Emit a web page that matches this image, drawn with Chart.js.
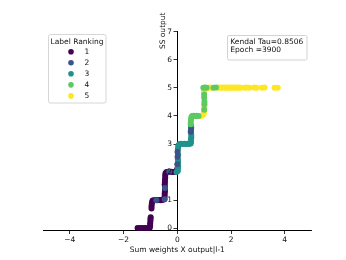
<!DOCTYPE html>
<html><head><meta charset="utf-8">
<script src="https://cdn.jsdelivr.net/npm/chart.js@4/dist/chart.umd.min.js"></script>
<style>html,body{margin:0;padding:0;background:#fff;overflow:hidden}</style>
</head><body>
<canvas id="c" width="346" height="260" style="display:block"></canvas>
<script>
// ---------- data ----------
const rankLabels = ['1', '2', '3', '4', '5'];
const rankColors = ['#440154', '#3b528b', '#21918c', '#5ec962', '#fde725'];

const rank1 = [
  [-1.48,0.01],[-1.42,0.00],[-1.36,0.01],[-1.30,0.00],[-1.24,0.01],[-1.18,0.00],[-1.12,0.01],[-1.06,0.01],[-1.02,0.03],
  [-1.01,0.10],[-1.01,0.18],[-1.00,0.26],[-1.00,0.33],[-0.99,0.39],
  [-0.96,0.70],[-0.96,0.78],[-0.95,0.86],[-0.94,0.93],[-0.92,0.99],
  [-0.86,1.00],[-0.80,1.01],[-0.74,1.00],[-0.68,1.01],[-0.62,1.00],[-0.56,1.01],[-0.51,1.02],
  [-0.48,1.08],[-0.47,1.16],[-0.47,1.24],[-0.46,1.32],[-0.46,1.40],[-0.46,1.48],[-0.47,1.56],[-0.46,1.64],[-0.46,1.72],[-0.45,1.80],[-0.45,1.88],[-0.44,1.96],
  [-0.40,2.00],[-0.34,2.01],[-0.28,2.00],[-0.22,2.01],[-0.16,2.00],[-0.10,2.01],[-0.05,2.02],[-0.01,2.06],[0.00,2.12]
];
const rank2 = [
  [-0.78,1.00],[-0.47,1.03],[-0.46,1.43],[-0.30,2.01],[0.00,2.28],[0.01,2.55],[0.01,2.72],[0.50,3.44],[0.51,3.52]
];
const rank3 = [
  [-0.03,2.00],[0.02,2.04],[0.02,2.12],[0.03,2.20],[0.02,2.30],[0.03,2.38],[0.02,2.46],[0.03,2.62],[0.02,2.80],[0.03,2.88],[0.04,2.95],
  [0.08,3.00],[0.14,3.01],[0.20,3.00],[0.26,3.01],[0.32,3.00],[0.38,3.01],[0.44,3.00],[0.50,3.02],
  [0.51,3.08],[0.51,3.16],[0.52,3.24],[0.52,3.32],[0.51,3.40],[0.52,3.58],[0.51,3.64]
];
const rank4 = [
  [0.50,3.70],[0.50,3.78],[0.51,3.86],[0.52,3.94],[0.55,4.00],[0.61,4.01],[0.67,4.00],[0.73,4.01],[0.79,4.00],
  [1.00,4.22],[1.01,4.42],[1.01,4.50],[1.00,4.66],[1.00,4.76],
  [0.97,5.00],[1.03,5.01],[1.09,5.00],[1.35,5.00],[1.44,5.01]
];
const rank5 = [
  [0.85,4.00],[0.91,4.01],[0.96,4.04],[0.99,4.10],[1.00,4.17],[1.01,4.30],[1.00,4.36],[1.01,4.58],[1.00,4.84],[1.00,4.90],[0.99,4.96],
  [1.15,5.00],[1.21,5.01],[1.27,5.00],[1.52,5.00],[1.58,5.01],[1.64,5.00],[1.70,5.01],[1.76,5.00],[1.82,5.01],[1.88,5.00],
  [1.94,5.01],[2.00,5.00],[2.06,5.01],[2.12,5.00],[2.18,5.01],[2.24,5.00],[2.30,5.01],[2.36,5.00],
  [2.50,5.00],[2.58,5.01],[2.68,5.00],[2.86,5.01],[2.95,5.00],[3.15,5.00],[3.25,5.01],[3.62,5.00],[3.74,5.00]
];

const xTicks = [-4, -2, 0, 2, 4];
const yTicks = [0, 1, 2, 3, 4, 5, 6, 7];
const xAxisTitle = 'Sum weights X output|l-1';
const yAxisTitle = 'SS output';
const legendTitle = 'Label Ranking';
const infoLines = ['Kendal Tau=0.8506', 'Epoch =3900'];

// ---------- chart ----------
const FONT = '"DejaVu Sans", sans-serif';
const FS = 7.5;
const TXT = '#111111';
const fmt = v => (v < 0 ? '\u2212' + Math.abs(v) : String(v));
const series = [rank1, rank2, rank3, rank4, rank5];
const drawOrder = [5, 3, 4, 1, 2]; // larger = drawn earlier (underneath)

const datasets = series.map((s, i) => ({
  label: rankLabels[i],
  data: s.map(([x, y]) => ({ x, y })),
  backgroundColor: rankColors[i],
  borderWidth: 0,
  pointRadius: 3,
  pointHoverRadius: 3,
  order: drawOrder[i]
}));

function roundRect(ctx, x, y, w, h, r) {
  ctx.beginPath();
  ctx.moveTo(x + r, y);
  ctx.lineTo(x + w - r, y); ctx.arcTo(x + w, y, x + w, y + r, r);
  ctx.lineTo(x + w, y + h - r); ctx.arcTo(x + w, y + h, x + w - r, y + h, r);
  ctx.lineTo(x + r, y + h); ctx.arcTo(x, y + h, x, y + h - r, r);
  ctx.lineTo(x, y + r); ctx.arcTo(x, y, x + r, y, r);
  ctx.closePath();
}

const decor = {
  id: 'decor',
  afterDraw(chart) {
    const ctx = chart.ctx;
    const xs = chart.scales.x, ys = chart.scales.y;
    const x0 = xs.getPixelForValue(0);
    ctx.save();
    ctx.fillStyle = TXT;
    ctx.font = FS + 'px ' + FONT;
    // y tick labels
    ctx.textAlign = 'right';
    ctx.textBaseline = 'middle';
    yTicks.forEach(v => ctx.fillText(fmt(v), x0 - 5.3, ys.getPixelForValue(v)));
    // x axis title
    ctx.textAlign = 'center';
    ctx.fillText(xAxisTitle, (chart.chartArea.left + chart.chartArea.right) / 2, chart.chartArea.bottom + 19.3);
    // y axis title (at top of axis)
    ctx.save();
    ctx.translate(x0 - 14, ys.getPixelForValue(yTicks[yTicks.length - 1]) - 0.9);
    ctx.rotate(-Math.PI / 2);
    ctx.fillText(yAxisTitle, 0, 0);
    ctx.restore();

    // legend
    ctx.fillStyle = 'rgba(255,255,255,0.85)';
    ctx.strokeStyle = '#cccccc';
    ctx.lineWidth = 0.8;
    roundRect(ctx, 48.5, 34.5, 57.5, 68.5, 2);
    ctx.fill(); ctx.stroke();
    ctx.fillStyle = TXT;
    ctx.textAlign = 'center';
    ctx.fillText(legendTitle, 77, 41.7);
    rankLabels.forEach((lab, i) => {
      const yy = 51.7 + i * 11.05;
      ctx.fillStyle = rankColors[i];
      ctx.beginPath(); ctx.arc(71, yy, 2.8, 0, Math.PI * 2); ctx.fill();
      ctx.fillStyle = TXT;
      ctx.textAlign = 'left';
      ctx.fillText(lab, 84.5, yy);
    });

    // info box
    ctx.fillStyle = '#ffffff';
    ctx.strokeStyle = '#c8c8c8';
    roundRect(ctx, 227.5, 35.5, 79.5, 24.5, 1.5);
    ctx.fill(); ctx.stroke();
    ctx.fillStyle = TXT;
    ctx.textAlign = 'left';
    infoLines.forEach((t, i) => ctx.fillText(t, 230.3, 41.6 + i * 8.4));
    ctx.restore();
  }
};

new Chart(document.getElementById('c'), {
  type: 'scatter',
  data: { datasets },
  options: {
    responsive: false,
    animation: false,
    events: [],
    layout: { padding: { left: 43, right: 34.4, top: 31.7, bottom: 0 } },
    plugins: { legend: { display: false }, tooltip: { enabled: false }, title: { display: false } },
    scales: {
      x: {
        type: 'linear', position: 'bottom', min: -5, max: 5,
        afterBuildTicks: s => { s.ticks = xTicks.map(v => ({ value: v })); },
        afterFit: s => { s.height = 29.5; },
        grid: { display: true, drawOnChartArea: false, drawTicks: true, tickLength: 3.5, color: '#000', lineWidth: 0.8 },
        border: { display: true, color: '#000', width: 1 },
        ticks: { font: { family: FONT, size: FS }, color: TXT, padding: 1.5, maxRotation: 0, autoSkip: false, callback: v => fmt(v) }
      },
      y: {
        type: 'linear', position: { x: 0 }, min: -0.08, max: 7,
        afterBuildTicks: s => { s.ticks = yTicks.map(v => ({ value: v })); },
        grid: { display: true, drawOnChartArea: false, drawTicks: true, tickLength: 3.5, color: '#000', lineWidth: 0.8 },
        border: { display: true, color: '#000', width: 1 },
        ticks: { display: false }
      }
    }
  },
  plugins: [decor]
});
</script>
</body></html>
